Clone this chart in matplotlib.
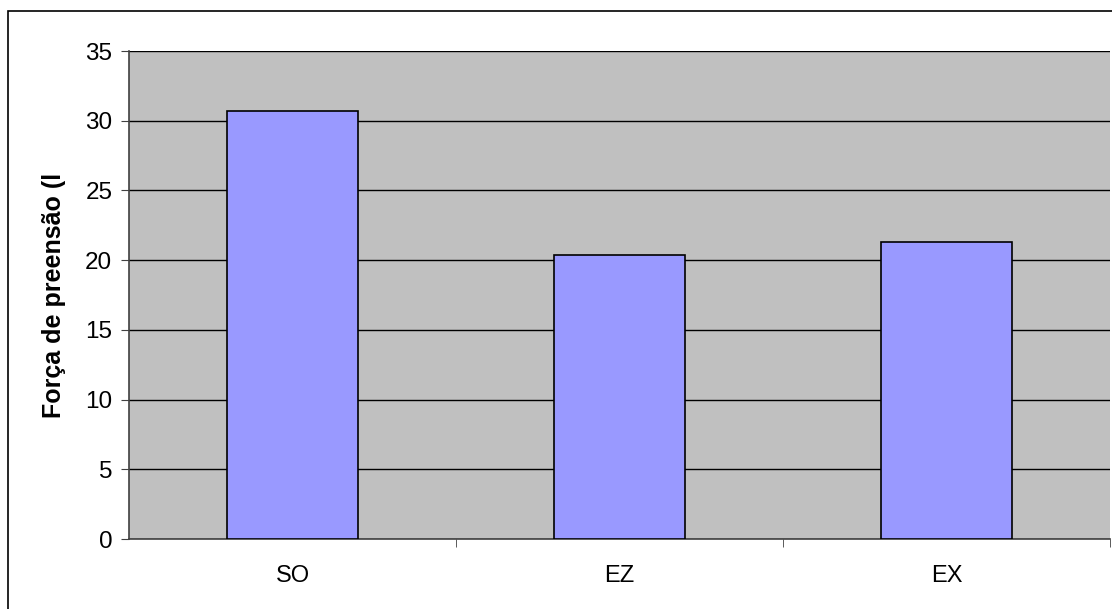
import matplotlib.pyplot as plt
from matplotlib.patches import Rectangle

categories = ["SO", "EZ", "EX"]
values = [30.7, 20.4, 21.3]
y_ticks = [0, 5, 10, 15, 20, 25, 30, 35]

plt.rcParams["font.family"] = ["Liberation Sans", "DejaVu Sans"]

fig = plt.figure(figsize=(11.12, 6.09), dpi=100)
W, H = 1112, 609

# outer frame of the chart area
fig.patches.append(Rectangle((8 / W, -0.1), 1.2, 1 - 11 / H + 0.1,
                             transform=fig.transFigure, fill=False,
                             edgecolor="black", linewidth=1.2))

ax = fig.add_axes([129 / W, 1 - 539 / H, (1110 - 129) / W, (539 - 51) / H])
ax.set_facecolor("#C0C0C0")

x = range(len(categories))
ax.bar(x, values, width=0.4, color="#9999FF", edgecolor="black", linewidth=1.2, zorder=3)

ax.set_xlim(-0.5, len(categories) - 0.5)
ax.set_ylim(0, 35)
ax.set_yticks(y_ticks)
ax.yaxis.grid(True, color="black", linewidth=1)
ax.set_axisbelow(True)

ax.set_xticks(list(x))
ax.set_xticklabels(categories, fontsize=17)
ax.tick_params(axis="x", length=0, pad=19)
ax.set_xticks([0.5, 1.5, 2.5], minor=True)
ax.tick_params(axis="x", which="minor", length=6, color="#404040")
ax.tick_params(axis="y", labelsize=17.5, length=6, color="#404040", pad=6)

for s in ["top", "right"]:
    ax.spines[s].set_visible(False)
ax.spines["left"].set_color("#404040")
ax.spines["bottom"].set_color("#404040")
ax.spines["left"].set_linewidth(1.2)
ax.spines["bottom"].set_linewidth(1.2)

ax.set_ylabel("Força de preensão (l", fontsize=18, fontweight="bold", labelpad=14)

fig.savefig("out.png", dpi=100)
